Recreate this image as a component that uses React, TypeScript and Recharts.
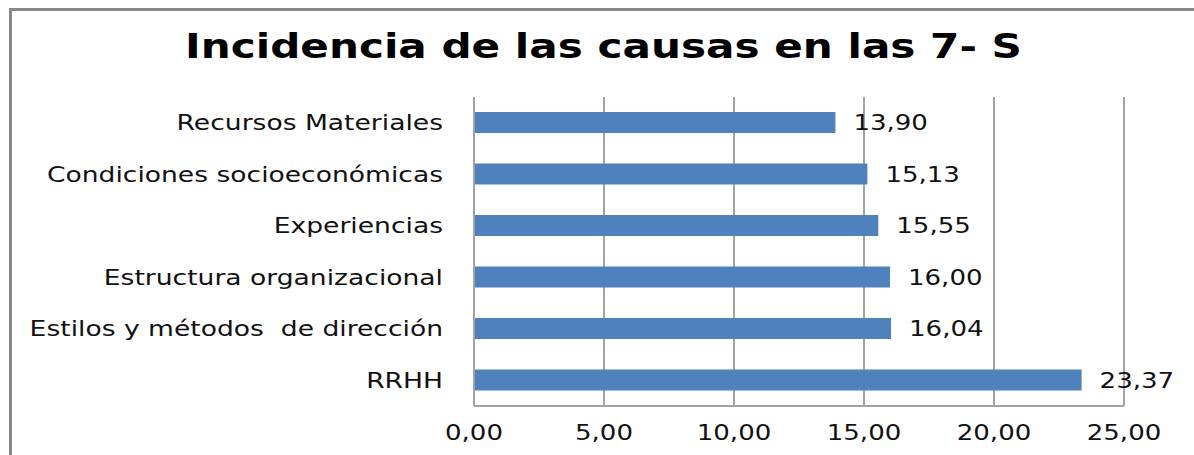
import React from 'react';
import { Bar, BarChart, CartesianGrid, LabelList, XAxis, YAxis } from 'recharts';

const categories = [
  'Recursos Materiales',
  'Condiciones socioeconómicas',
  'Experiencias',
  'Estructura organizacional',
  'Estilos y métodos  de dirección',
  'RRHH',
];
const values = [13.9, 15.13, 15.55, 16.0, 16.04, 23.37];
const xTicks = [0, 5, 10, 15, 20, 25];

const data = categories.map((name, i) => ({ name, value: values[i] }));

const FONT = '"DejaVu Sans", sans-serif';
const STRETCH = 1.24;
const fmt = (v: number) => v.toFixed(2).replace('.', ',');

function XTick({ x, y, payload }: any) {
  return (
    <text
      transform={`translate(${x},${y + 34}) scale(${STRETCH},1)`}
      textAnchor="middle"
      fontFamily={FONT}
      fontSize={21}
      fill="#111"
    >
      {fmt(payload.value)}
    </text>
  );
}

function YTick({ x, y, payload }: any) {
  return (
    <text
      transform={`translate(${x - 31},${y}) scale(1.265,1)`}
      textAnchor="end"
      dy="0.36em"
      fontFamily={FONT}
      fontSize={21}
      fill="#111"
      style={{ whiteSpace: 'pre' }}
    >
      {payload.value}
    </text>
  );
}

function ValueLabel({ x, y, width, height, value }: any) {
  return (
    <text
      transform={`translate(${x + width + 18},${y + height / 2}) scale(${STRETCH},1)`}
      textAnchor="start"
      dy="0.36em"
      fontFamily={FONT}
      fontSize={21}
      fill="#111"
    >
      {fmt(value)}
    </text>
  );
}

export default function App() {
  return (
    <div style={{ position: 'relative', width: 1194, height: 455, overflow: 'hidden' }}>
      <style>{'body{margin:0;overflow:hidden}'}</style>
      {/* chart frame: only top and left edges are visible in the crop */}
      <div style={{ position: 'absolute', left: 9, top: 8, width: 1185, height: 3, background: '#888' }} />
      <div style={{ position: 'absolute', left: 9, top: 8, width: 3, height: 447, background: '#888' }} />
      <svg
        width={1194}
        height={90}
        style={{ position: 'absolute', left: 0, top: 0 }}
      >
        <text
          transform={`translate(603.5,58) scale(${STRETCH},1)`}
          textAnchor="middle"
          fontFamily={FONT}
          fontWeight="bold"
          fontSize={34}
          fill="#000"
        >
          Incidencia de las causas en las 7- S
        </text>
      </svg>
      <div style={{ position: 'absolute', left: 8, top: 8 }}>
        <BarChart
          width={1178}
          height={447}
          data={data}
          layout="vertical"
          margin={{ top: 89, right: 62, left: 0, bottom: 9 }}
        >
          <CartesianGrid horizontal={false} stroke="#a3a3a3" strokeWidth={2} />
          <XAxis
            type="number"
            domain={[0, 25]}
            ticks={xTicks}
            height={40}
            tickLine={false}
            tickSize={0}
            tickMargin={0}
            axisLine={{ stroke: '#a3a3a3', strokeWidth: 2 }}
            tick={<XTick />}
          />
          <YAxis
            type="category"
            dataKey="name"
            width={466}
            tickLine={false}
            tickSize={0}
            tickMargin={0}
            axisLine={{ stroke: '#a3a3a3', strokeWidth: 2 }}
            tick={<YTick />}
            interval={0}
          />
          <Bar dataKey="value" fill="#4f81bd" barSize={21} isAnimationActive={false}>
            <LabelList dataKey="value" content={<ValueLabel />} />
          </Bar>
        </BarChart>
      </div>
    </div>
  );
}
